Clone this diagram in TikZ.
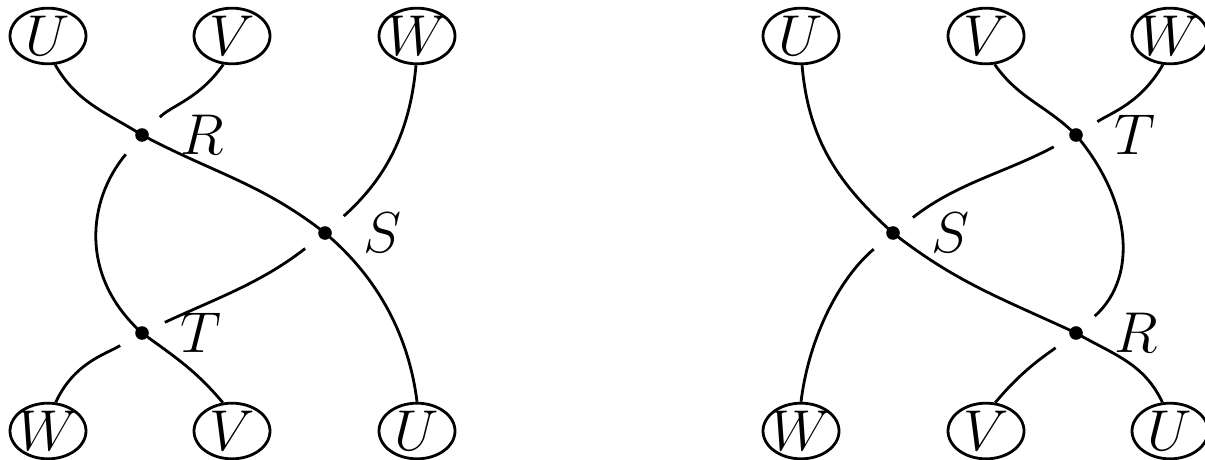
\documentclass[tikz,border=0pt]{standalone}
\usetikzlibrary{shapes.geometric}
\newcommand{\tmtext}[1]{\makebox[0pt][c]{$#1$}}
\begin{document}
\begin{tikzpicture}[x=0.25pt,y=0.25pt,
  font=\fontsize{14}{16}\selectfont,
  term/.style={draw, ellipse, line width=0.7pt, minimum width=19pt, minimum height=13.8pt, inner sep=0pt},
  junct/.style={circle, fill, inner sep=0pt, minimum size=3.4pt},
  strand/.style={line width=0.7pt},
  gapend/.style={shorten >=6.3pt},
  gapstart/.style={shorten <=6.3pt},
  lbl/.style={label={[label distance=7.5pt, inner sep=0pt]0:$#1$}}
]
\useasboundingbox (0,0) rectangle (1205,-459);

% ---------- left diagram ----------
\node[term] (uT) at (48,-36) {\tmtext{U}};
\node[term] (vT) at (232,-36) {\tmtext{V}};
\node[term] (wT) at (417,-36) {\tmtext{W}};
\node[term] (wB) at (48,-431) {\tmtext{W}};
\node[term] (vB) at (232,-431) {\tmtext{V}};
\node[term] (uB) at (417,-431) {\tmtext{U}};
\node[junct, lbl=R] (R) at (142,-135) {};
\node[junct, lbl=S] (S) at (325,-233) {};
\node[junct, lbl=T] (T) at (142,-333) {};

% U strand (over)
\draw[strand] (uT.-76) to[out=-60,in=148] (R.center)
  to[out=-28,in=142] (S.center)
  to[out=-40,in=97,looseness=0.9] (uB.90);
% V strand
\draw[strand, gapend] (vT.-107) to[out=-125,in=45] (R.center);
\draw[strand, gapstart] (R.center) to[out=230,in=138,looseness=1.1] (T.center)
  to[out=-36,in=130] (vB.108);
% W strand (under)
\draw[strand, gapend] (wT.-92) to[out=-95,in=42] (S.center);
\draw[strand, gapstart, gapend] (S.center) to[out=218,in=25] (T.center);
\draw[strand, gapstart] (T.center) to[out=210,in=65] (wB.75);

% ---------- right diagram ----------
\node[term] (uT2) at (801,-36) {\tmtext{U}};
\node[term] (vT2) at (986,-36) {\tmtext{V}};
\node[term] (wT2) at (1170,-36) {\tmtext{W}};
\node[term] (wB2) at (801,-431) {\tmtext{W}};
\node[term] (vB2) at (986,-431) {\tmtext{V}};
\node[term] (uB2) at (1170,-431) {\tmtext{U}};
\node[junct, lbl=T] (T2) at (1076,-135) {};
\node[junct, lbl=S] (S2) at (893,-233) {};
\node[junct, lbl=R] (R2) at (1076,-333) {};

% U strand (over)
\draw[strand] (uT2.272) to[out=-85,in=138] (S2.center)
  to[out=-38,in=155] (R2.center)
  to[out=-30,in=115] (uB2.105);
% V strand
\draw[strand, gapend] (vT2.287) to[out=-55,in=135] (T2.center)
  to[out=-50,in=42,looseness=1.1] (R2.center);
\draw[strand, gapstart] (R2.center) to[out=216,in=50] (vB2.72);
% W strand (under)
\draw[strand, gapend] (wT2.256) to[out=240,in=32] (T2.center);
\draw[strand, gapstart, gapend] (T2.center) to[out=208,in=38] (S2.center);
\draw[strand, gapstart] (S2.center) to[out=220,in=83,looseness=0.9] (wB2.90);
\end{tikzpicture}
\end{document}
